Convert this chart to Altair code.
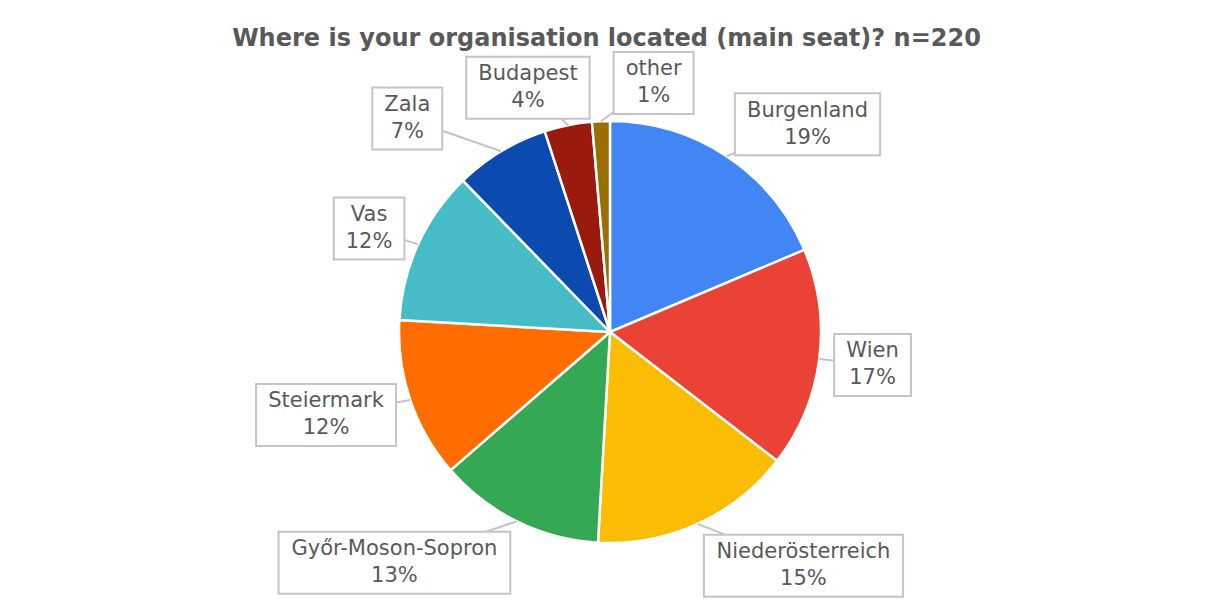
import altair as alt
import pandas as pd
import numpy as np

# ---- data ----
title_text = "Where is your organisation located (main seat)? n=220"
regions = ["Burgenland", "Wien", "Niederösterreich", "Győr-Moson-Sopron",
           "Steiermark", "Vas", "Zala", "Budapest", "other"]
counts = [41, 37, 34, 28, 27, 26, 16, 8, 3]
colors = ["#4285F4", "#EA4335", "#FBBC04", "#34A853", "#FF6D01",
          "#46BDC6", "#0B4BB0", "#9A1B0E", "#9A6E00"]

# ---- layout parameters ----
R = 211          # pie radius (px)
GAP = 15         # distance from pie edge to label box
FONT = 21
LINE_H = 27
PAD_X = 12
BOX_H = 62
PLOT_W, PLOT_H = 1197, 538
CX, CY = 602, 266   # pie centre inside plot area

# approximate DejaVu Sans advance widths (em) to size the label boxes
W = {'a': .613, 'b': .635, 'c': .550, 'd': .635, 'e': .615, 'g': .635, 'h': .634,
     'i': .278, 'k': .579, 'l': .278, 'm': .974, 'n': .634, 'o': .612, 'ö': .612,
     'ő': .612, 'p': .635, 'r': .411, 's': .521, 't': .392, 'u': .634, 'y': .592,
     'z': .525, 'B': .686, 'G': .775, 'M': .863, 'N': .748, 'S': .635, 'V': .684,
     'W': .989, 'Z': .685, '-': .361, '%': .950}


def text_w(s):
    return sum(W.get(ch, .636) for ch in s) * FONT


df = pd.DataFrame({"region": regions, "count": counts})
df["idx"] = range(len(df))
total = df["count"].sum()
df["pct"] = (np.round(df["count"] / total * 100)).astype(int).astype(str) + "%"
df["label"] = df["region"] + "\n" + df["pct"]

mid = (df["count"].cumsum() - df["count"] / 2) / total
ang = 2 * np.pi * mid
s, c = np.sin(ang), np.cos(ang)
df["ex"] = R * s
df["ey"] = -R * c
df["w"] = [max(text_w(a), text_w(b)) + 2 * PAD_X for a, b in zip(df["region"], df["pct"])]
df["h"] = BOX_H
kv = np.where(c > 0, 0.75, 1.0)
cx = ((R + GAP) * s + df["w"] / 2 * np.clip(s * 2.5, -1, 1)).to_numpy().copy()
cy = (-(R + GAP) * c - df["h"] / 2 * c * kv).to_numpy().copy()
wv = df["w"].to_numpy()
hv = df["h"].to_numpy()
# simple horizontal collision resolution
for _ in range(300):
    moved = False
    for i in range(len(df)):
        for j in range(i + 1, len(df)):
            dx = cx[j] - cx[i]
            dy = cy[j] - cy[i]
            need_x = (wv[i] + wv[j]) / 2 + 24
            need_y = (hv[i] + hv[j]) / 2 + 4
            if abs(dx) < need_x - 0.01 and abs(dy) < need_y:
                ov = need_x - abs(dx)
                sgn = 1 if dx >= 0 else -1
                cx[i] -= sgn * ov / 2
                cx[j] += sgn * ov / 2
                moved = True
    if not moved:
        break
df["cx"] = cx
df["cy"] = cy
df["x0"] = cx - wv / 2
df["x1"] = cx + wv / 2
df["y0"] = cy - hv / 2
df["y1"] = cy + hv / 2

xs = alt.Scale(domain=[-CX, PLOT_W - CX], nice=False, zero=False)
ys = alt.Scale(domain=[-CY, PLOT_H - CY], reverse=True, nice=False, zero=False)

base = alt.Chart(df)

pie = base.mark_arc(radius=R, stroke="white", strokeWidth=2.5).encode(
    x=alt.X(datum=0, scale=xs, axis=None),
    y=alt.Y(datum=0, scale=ys, axis=None),
    theta=alt.Theta("count:Q", stack=True),
    order=alt.Order("idx:Q"),
    color=alt.Color("region:N", scale=alt.Scale(domain=regions, range=colors), legend=None),
)

leaders = base.mark_rule(color="#C4C4C4", strokeWidth=2).encode(
    x=alt.X("ex:Q", scale=xs, axis=None),
    y=alt.Y("ey:Q", scale=ys, axis=None),
    x2="cx:Q",
    y2="cy:Q",
)

boxes = base.mark_rect(fill="white", stroke="#C4C4C4", strokeWidth=2).encode(
    x=alt.X("x0:Q", scale=xs, axis=None),
    x2="x1:Q",
    y=alt.Y("y0:Q", scale=ys, axis=None),
    y2="y1:Q",
)

labels = base.mark_text(lineBreak="\n", lineHeight=LINE_H, fontSize=FONT,
                        color="#595959", font="DejaVu Sans",
                        align="center", baseline="middle", dy=-LINE_H / 2).encode(
    x=alt.X("cx:Q", scale=xs, axis=None),
    y=alt.Y("cy:Q", scale=ys, axis=None),
    text="label:N",
)

chart = alt.layer(pie, leaders, boxes, labels).properties(
    width=PLOT_W, height=PLOT_H,
    padding={"top": 18, "left": 0, "right": 0, "bottom": 0},
    title=alt.TitleParams(title_text, fontSize=24, font="DejaVu Sans",
                          fontWeight="bold", color="#595959", offset=0,
                          anchor="middle"),
).configure_view(stroke=None)

chart.save("out.html", embed_options={"renderer": "svg", "actions": False})
